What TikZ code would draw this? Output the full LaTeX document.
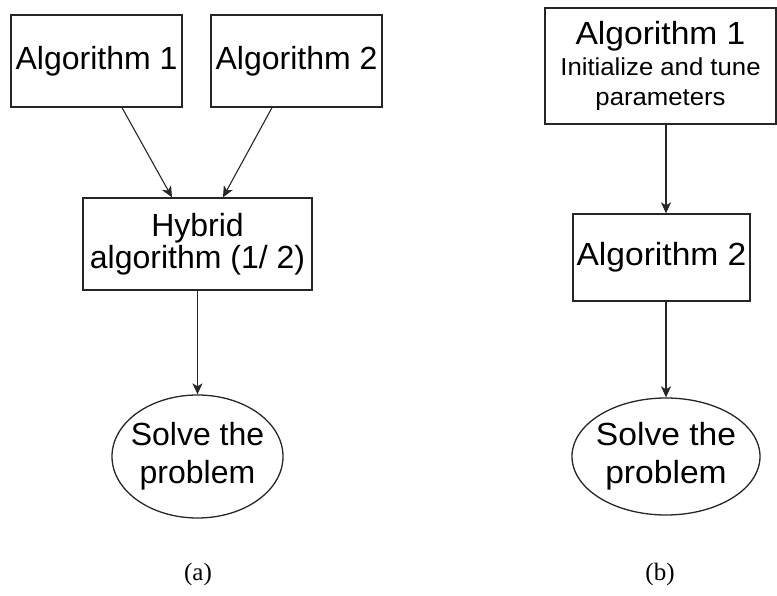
\documentclass[tikz,border=0pt]{standalone}
\usepackage{fontspec}
\setmainfont{Liberation Sans}
\newfontfamily\capfont{Liberation Serif}
\newfontfamily\lfont{Liberation Sans}
\newfontfamily\rfont[FakeStretch=1.05]{Liberation Sans}
\usetikzlibrary{shapes.geometric,arrows.meta,calc}

\begin{document}
\begin{tikzpicture}[x=1pt,y=-1pt,
  box/.style={draw=black!85,line width=1.3pt,inner sep=0pt,align=center},
  oval/.style={ellipse,draw=black!85,line width=1.3pt,inner sep=0pt},
  arr/.style={draw=black!85,line width=1.1pt,-{Stealth[length=11pt,width=10pt,inset=3pt]}},
  lt/.style={font=\lfont\fontsize{32}{32}\selectfont},
  rt/.style={font=\rfont\fontsize{32}{32}\selectfont},
  subcap/.style={font=\capfont\fontsize{25}{28}\selectfont}]
\useasboundingbox (0,0) rectangle (777,596);

% (a) two algorithms merged into a hybrid
\node[box,lt,minimum width=171pt,minimum height=92pt] (a1) at (96.5,61) {Algorithm 1};
\node[box,lt,minimum width=171pt,minimum height=92pt] (a2) at (296.5,61) {Algorithm 2};
\node[box,lt,minimum width=229pt,minimum height=92pt] (hy) at (197.5,244) {Hybrid\\algorithm (1/ 2)};
\node[oval,minimum width=171pt,minimum height=123pt,
      label={[lt,align=center]center:Solve the\\[6pt]problem}] (s1) at (197.5,456.5) {};

\draw[arr] ([xshift=25.5pt]a1.south) -- ([xshift=-25.5pt]hy.north);
\draw[arr] ([xshift=-24.5pt]a2.south) -- ([xshift=25.5pt]hy.north);
\draw[arr] (hy.south) -- (s1.north);

% (b) one algorithm tunes the other
\node[box,font=\rfont\fontsize{24.5}{30}\selectfont,minimum width=231pt,minimum height=116pt] (b1) at (660.5,66)
  {{\fontsize{32}{32}\selectfont Algorithm 1}\\[1pt]Initialize and tune\\parameters};
\node[box,rt,minimum width=177pt,minimum height=87pt] (b2) at (661.5,257.5) {Algorithm 2};
\node[oval,minimum width=188pt,minimum height=117pt,
      label={[rt,align=center]center:Solve the\\[6pt]problem}] (s2) at (666,456.5) {};

\draw[arr] (b1.south -| s2.center) -- (b2.north -| s2.center);
\draw[arr] (b2.south -| s2.center) -- (s2.north);

% sub-figure captions
\node[subcap] (ca) at (198,574) {(a)};
\node[subcap] (cb) at (660,574) {(b)};
\end{tikzpicture}
\end{document}
